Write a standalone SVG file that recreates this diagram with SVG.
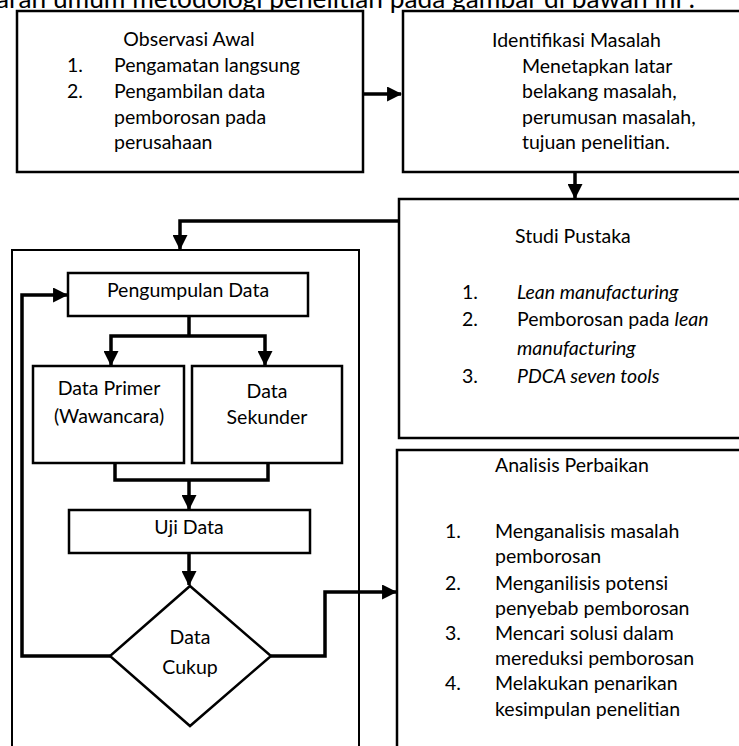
<svg xmlns="http://www.w3.org/2000/svg" width="739" height="746" viewBox="0 0 739 746">
<style>
.box{fill:#fff;stroke:#000;stroke-width:2.5}
.outer{fill:none;stroke:#000;stroke-width:2}
.c{fill:none;stroke:#000;stroke-width:3.5}
text{font-family:Lato,"Open Sans","DejaVu Sans",sans-serif;font-size:19.5px;fill:#000}
.m{text-anchor:middle}
.i{font-style:italic}
</style>
<defs>
<marker id="ah" viewBox="0 0 14 14" refX="13" refY="7" markerWidth="15" markerHeight="15" markerUnits="userSpaceOnUse" orient="auto">
<path d="M0,0 L14,7 L0,14 z" fill="#000"/>
</marker>
</defs>
<rect width="739" height="746" fill="#fff"/>
<text x="-4" y="8" style="font-size:26.3px">aran umum metodologi penelitian pada gambar di bawah ini :</text>

<g id="outer-box"><rect class="outer" x="12" y="250" width="347" height="520"/></g>

<g id="observasi-awal">
<rect class="box" x="17" y="11" width="346" height="161"/>
<text x="189" y="46" class="m">Observasi Awal</text>
<text x="67" y="72">1.</text><text x="114" y="72">Pengamatan langsung</text>
<text x="67" y="98">2.</text><text x="114" y="98">Pengambilan data</text>
<text x="114" y="124">pemborosan pada</text>
<text x="114" y="149">perusahaan</text>
</g>

<g id="identifikasi-masalah">
<rect class="box" x="403" y="11" width="345" height="161"/>
<text x="492" y="47">Identifikasi Masalah</text>
<text x="522" y="73">Menetapkan latar</text>
<text x="522" y="98">belakang masalah,</text>
<text x="522" y="124">perumusan masalah,</text>
<text x="522" y="149">tujuan penelitian.</text>
</g>

<g id="studi-pustaka">
<rect class="box" x="399" y="199" width="349" height="239"/>
<text x="515" y="243">Studi Pustaka</text>
<text x="462" y="299">1.</text><text x="517" y="299" class="i">Lean manufacturing</text>
<text x="462" y="326">2.</text><text x="517" y="326">Pemborosan pada <tspan class="i">lean</tspan></text>
<text x="517" y="355" class="i">manufacturing</text>
<text x="462" y="383">3.</text><text x="517" y="383" class="i">PDCA seven tools</text>
</g>

<g id="analisis-perbaikan">
<rect class="box" x="397" y="450" width="351" height="310"/>
<text x="495" y="472">Analisis Perbaikan</text>
<text x="445" y="538">1.</text><text x="495" y="538">Menganalisis masalah</text>
<text x="495" y="563">pemborosan</text>
<text x="445" y="590">2.</text><text x="495" y="590">Menganilisis potensi</text>
<text x="495" y="615">penyebab pemborosan</text>
<text x="445" y="640">3.</text><text x="495" y="640">Mencari solusi dalam</text>
<text x="495" y="665">mereduksi pemborosan</text>
<text x="445" y="690">4.</text><text x="495" y="690">Melakukan penarikan</text>
<text x="495" y="716">kesimpulan penelitian</text>
</g>

<g id="pengumpulan-data">
<rect class="box" x="68" y="273" width="240" height="43"/>
<text x="188" y="297" class="m">Pengumpulan Data</text>
</g>

<g id="data-primer">
<rect class="box" x="33" y="366" width="151" height="97"/>
<text x="109" y="395" class="m">Data Primer</text>
<text x="109" y="423" class="m">(Wawancara)</text>
</g>

<g id="data-sekunder">
<rect class="box" x="192" y="366" width="150" height="97"/>
<text x="267" y="398" class="m">Data</text>
<text x="267" y="424" class="m">Sekunder</text>
</g>

<g id="uji-data">
<rect class="box" x="69" y="510" width="241" height="43"/>
<text x="189" y="534" class="m">Uji Data</text>
</g>

<g id="data-cukup">
<path class="box" d="M190,586 L271,656 L190,726 L110,656 Z"/>
<text x="190" y="644" class="m">Data</text>
<text x="190" y="674" class="m">Cukup</text>
</g>

<g id="connectors">
<path class="c" d="M363,94 H401" marker-end="url(#ah)"/>
<path class="c" d="M575,172 V198" marker-end="url(#ah)"/>
<path class="c" d="M399,221 H180 V249" marker-end="url(#ah)"/>
<path class="c" d="M189,316 V336"/>
<path class="c" d="M189,336 H111 V365" marker-end="url(#ah)"/>
<path class="c" d="M189,336 H265 V365" marker-end="url(#ah)"/>
<path class="c" d="M115,463 V480 H268 V463"/>
<path class="c" d="M189,480 V509" marker-end="url(#ah)"/>
<path class="c" d="M189,553 V585" marker-end="url(#ah)"/>
<path class="c" d="M110,656 H22 V295 H67" marker-end="url(#ah)"/>
<path class="c" d="M271,656 H325 V592 H396" marker-end="url(#ah)"/>
</g>
</svg>
